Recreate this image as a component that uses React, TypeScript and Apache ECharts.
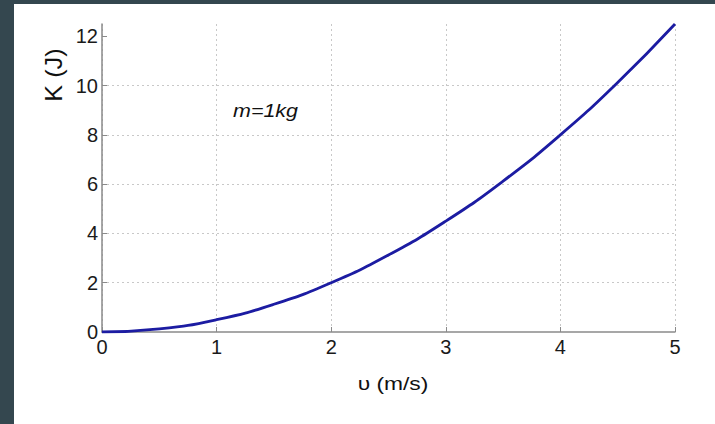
import React, { useEffect, useRef } from "react";
import * as echarts from "echarts";

const speeds = [0, 0.5, 1, 1.5, 2, 2.5, 3, 3.5, 4, 4.5, 5];
const energies = [0, 0.125, 0.5, 1.125, 2, 3.125, 4.5, 6.125, 8, 10.125, 12.5];
const yTicks = [0, 2, 4, 6, 8, 10, 12];
const xTicks = [0, 1, 2, 3, 4, 5];
const yName = "K (J)";
const xName = "υ (m/s)";
const note = "m=1kg";

export default function App() {
  const ref = useRef<HTMLDivElement>(null);
  useEffect(() => {
    if (!ref.current) return;
    const chart = echarts.init(ref.current, null, { renderer: "svg" });
    const font = "'Liberation Sans', Arial, sans-serif";
    chart.setOption({
      animation: false,
      grid: { left: 102, right: 40, top: 24, bottom: 92, containLabel: false },
      xAxis: {
        type: "value",
        min: 0,
        max: 5,
        interval: 1,
        axisLine: { show: true, onZero: false, lineStyle: { color: "#8a8a8a", width: 1.5 } },
        axisTick: { show: true, inside: true, length: 5, lineStyle: { color: "#8a8a8a" }, customValues: xTicks },
        axisLabel: { color: "#1a1a1a", fontSize: 20, fontFamily: font, margin: 5, customValues: xTicks },
        splitLine: { show: true, lineStyle: { color: "#c8c8c8", type: [2, 3], width: 1 } },
      },
      yAxis: {
        type: "value",
        min: 0,
        max: 12.5,
        interval: 2,
        axisLine: { show: true, onZero: false, lineStyle: { color: "#8a8a8a", width: 1.5 } },
        axisTick: { show: true, inside: true, length: 5, lineStyle: { color: "#8a8a8a" }, customValues: yTicks },
        axisLabel: { color: "#1a1a1a", fontSize: 20, fontFamily: font, margin: 4, customValues: yTicks },
        splitLine: { show: true, showMaxLine: false, showMinLine: false, lineStyle: { color: "#c8c8c8", type: [2, 3], width: 1 } },
      },
      graphic: [
        {
          type: "text",
          x: 42,
          y: 75,
          rotation: Math.PI / 2,
          scaleX: 1.1,
          style: {
            text: yName,
            fontSize: 23,
            fontFamily: font,
            fill: "#111",
            align: "center",
            verticalAlign: "top",
          },
        },
        {
          type: "text",
          x: 393,
          y: 383,
          scaleX: 1.2,
          style: {
            text: xName,
            fontSize: 19,
            fontFamily: font,
            fill: "#111",
            align: "center",
            verticalAlign: "middle",
          },
        },
        {
          type: "text",
          x: 233,
          y: 110,
          scaleX: 1.13,
          style: {
            text: note,
            fontSize: 19,
            fontStyle: "italic",
            fontFamily: font,
            fill: "#111",
            align: "left",
            verticalAlign: "middle",
          },
        },
      ],
      series: [
        {
          type: "line",
          data: speeds.map((v, i) => [v, energies[i]]),
          smooth: true,
          showSymbol: false,
          lineStyle: { color: "#1c1ca2", width: 2.8 },
        },
      ],
    });
    return () => chart.dispose();
  }, []);
  return (
    <div style={{ position: "fixed", left: 0, top: 0, width: 715, height: 424, background: "#34474f" }}>
      <div style={{ position: "absolute", left: 14, top: 4, right: 0, bottom: 0, background: "#ffffff" }} />
      <div ref={ref} style={{ position: "absolute", left: 0, top: 0, width: 715, height: 424 }} />
    </div>
  );
}
